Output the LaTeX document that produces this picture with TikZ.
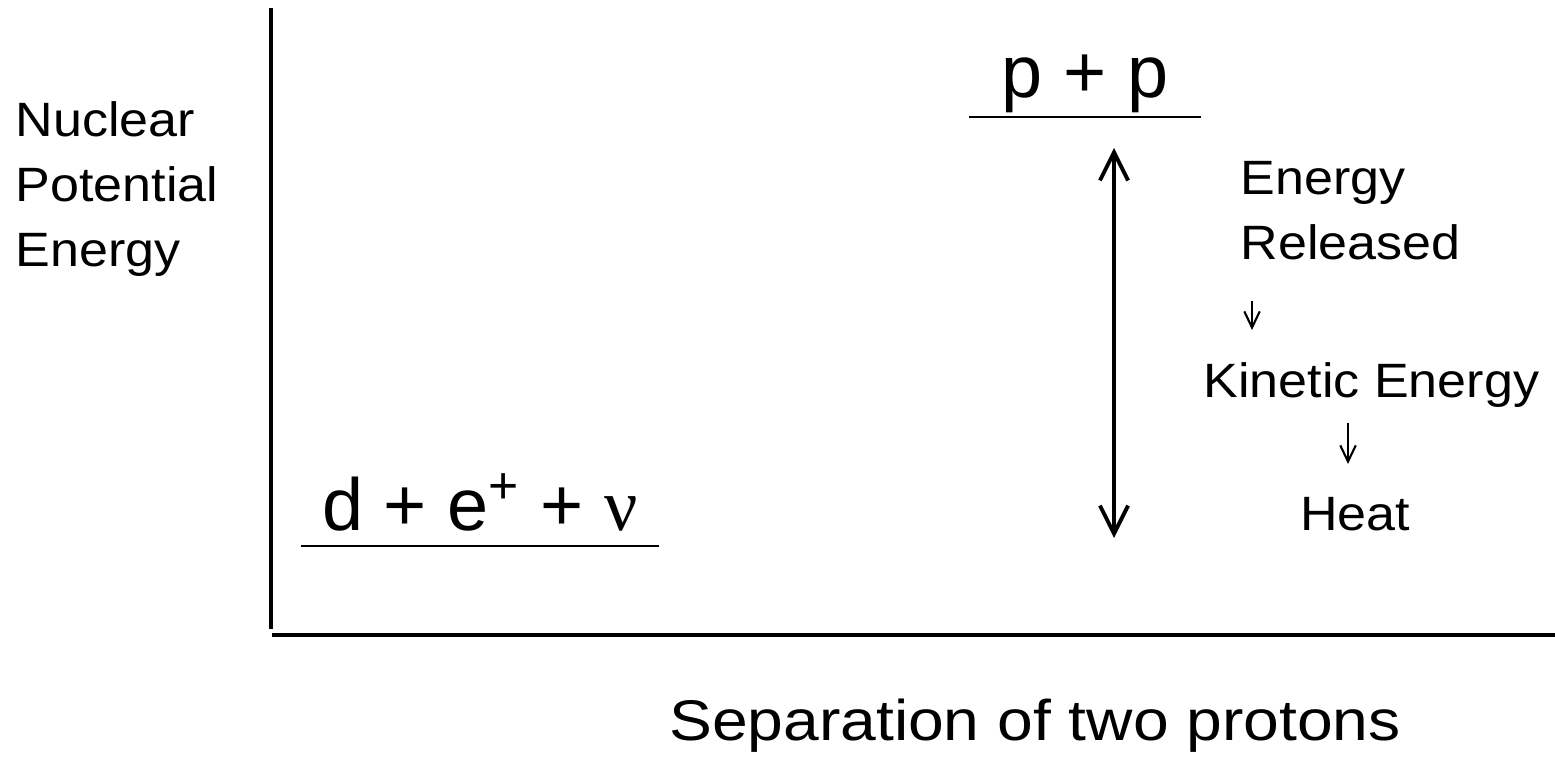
\documentclass[tikz,border=0pt]{standalone}
\usepackage{fontspec}
\setmainfont{Liberation Sans}
\newfontfamily\nufont{Liberation Serif}
\usetikzlibrary{arrows.meta,positioning}
\newcommand{\widen}[1]{\scalebox{1.08}[1]{#1}}

\begin{document}
\begin{tikzpicture}[x=0.01cm,y=-0.01cm]

\tikzset{axis/.style = {line width=1.15pt}}
\tikzset{rule/.style = {line width=0.6pt}}
\tikzset{level/.style = {inner sep=0pt, anchor=base, font=\fontsize{21}{25}\selectfont}}
\tikzset{tag/.style = {inner sep=0pt, align=left, anchor=north west, font=\fontsize{13.7}{18.5}\selectfont}}
\tikzset{gap/.style = {<->, line width=1.1pt, >={Straight Barb[length=8pt,width=8pt]}}}
\tikzset{flow/.style = {->, line width=0.6pt, >={Straight Barb[length=4.6pt,width=4.4pt]}}}

\useasboundingbox (0,0) rectangle (1555,757);

% axes
\coordinate (ytop) at (271,8);
\coordinate (ybot) at (271,629);
\coordinate (xbeg) at (272,635);
\coordinate (xend) at (1555,635);
\draw[axis] (ytop) -- (ybot);
\draw[axis] (xbeg) -- (xend);

% levels
\node[level, minimum width=2.3cm, text depth=0.19cm] (pp) at (1085,97) {p + p};
\node[level, minimum width=3.56cm, text depth=0.15cm] (de) at (480,530) {d + e\textsuperscript{+} + {\nufont ν}};
\draw[rule] (pp.south west) -- (pp.south east);
\draw[rule] (de.south west) -- (de.south east);

% labels
\node[tag] (ylab) at (15,101) {\widen{Nuclear}\\\widen{Potential}\\\widen{Energy}};
\node[tag] (rel) at (1240,161) {\widen{Energy}\\\widen{Released}};
\node[tag] (kin) at (1203,362) {\widen{Kinetic Energy}};
\node[tag, anchor=north] (heat) at (1355,497) {\widen{Heat}};
\node[inner sep=0pt, anchor=base, font=\fontsize{16.3}{20}\selectfont] (sep) at (1035,740) {\scalebox{1.12}[1]{Separation of two protons}};

% arrows
\coordinate (hi) at (1114,148);
\coordinate (lo) at (1114,538);
\draw[gap] (hi) -- (lo);
\draw[flow] ([xshift=0.12cm, yshift=-0.4cm]rel.south west) -- ([xshift=0.12cm, yshift=0.32cm]rel.south west |- kin.north);
\draw[flow] ([xshift=-0.07cm, yshift=-0.15cm]heat.north |- kin.south) -- ([xshift=-0.07cm, yshift=0.33cm]heat.north);

\end{tikzpicture}
\end{document}
